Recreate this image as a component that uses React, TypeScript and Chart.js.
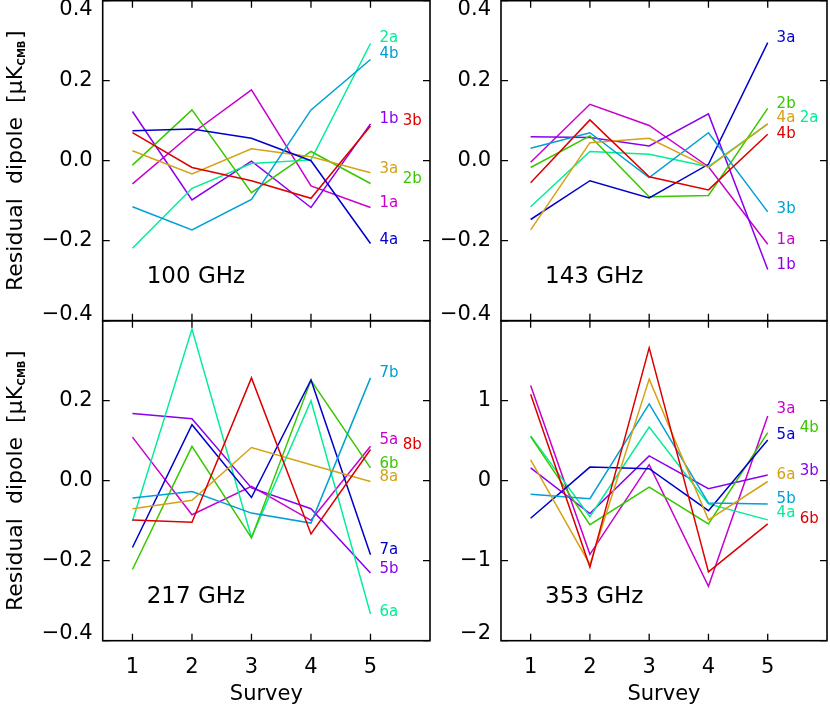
import React, { useEffect, useRef } from "react";
import { Chart, registerables } from "chart.js";

Chart.register(...registerables);

const FONT = "'DejaVu Sans', 'Liberation Sans', sans-serif";

// ---------- shared axes ----------
const surveys = [1, 2, 3, 4, 5];
const xTickValues = [1, 2, 3, 4, 5];
const smallYTicks = [-0.4, -0.2, 0, 0.2, 0.4];
const bigYTicks = [-2, -1, 0, 1, 2];

// ---------- 100 GHz ----------
const names100 = ["1a", "1b", "2a", "2b", "3a", "3b", "4a", "4b"];
const v100_1a = [-0.058, 0.068, 0.177, -0.063, -0.117];
const v100_1b = [0.123, -0.098, -0.001, -0.117, 0.092];
const v100_2a = [-0.219, -0.069, -0.007, 0.002, 0.293];
const v100_2b = [-0.011, 0.127, -0.08, 0.023, -0.057];
const v100_3a = [0.025, -0.033, 0.03, 0.01, -0.03];
const v100_3b = [0.07, -0.017, -0.05, -0.094, 0.087];
const v100_4a = [0.075, 0.079, 0.056, 0.0, -0.207];
const v100_4b = [-0.115, -0.173, -0.097, 0.127, 0.253];
const labels100 = ["2a", "4b", "1b", "3b", "3a", "2b", "1a", "4a"];
const labelY100 = [0.307, 0.267, 0.104, 0.1, -0.022, -0.046, -0.105, -0.198];
const labelCol100 = [0, 0, 0, 1, 0, 1, 0, 0];

// ---------- 143 GHz ----------
const names143 = ["1a", "1b", "2a", "2b", "3a", "3b", "4a", "4b"];
const v143_1a = [-0.004, 0.141, 0.088, -0.015, -0.209];
const v143_1b = [0.06, 0.058, 0.037, 0.117, -0.272];
const v143_2a = [-0.115, 0.023, 0.016, -0.015, 0.092];
const v143_2b = [-0.017, 0.062, -0.09, -0.087, 0.131];
const v143_3a = [-0.147, -0.05, -0.093, -0.009, 0.295];
const v143_3b = [0.031, 0.07, -0.042, 0.07, -0.128];
const v143_4a = [-0.173, 0.045, 0.056, -0.017, 0.092];
const v143_4b = [-0.055, 0.102, -0.04, -0.073, 0.066];
const labels143 = ["3a", "2b", "4a", "2a", "4b", "3b", "1a", "1b"];
const labelY143 = [0.307, 0.142, 0.106, 0.106, 0.066, -0.12, -0.198, -0.26];
const labelCol143 = [0, 0, 0, 1, 0, 0, 0, 0];

// ---------- 217 GHz ----------
const names217 = ["5a", "5b", "6a", "6b", "7a", "7b", "8a", "8b"];
const v217_5a = [0.109, -0.085, -0.014, -0.099, 0.086];
const v217_5b = [0.168, 0.155, -0.018, -0.07, -0.231];
const v217_6a = [-0.101, 0.379, -0.142, 0.2, -0.333];
const v217_6b = [-0.222, 0.086, -0.143, 0.251, 0.032];
const v217_7a = [-0.167, 0.14, -0.042, 0.252, -0.185];
const v217_7b = [-0.043, -0.027, -0.081, -0.106, 0.257];
const v217_8a = [-0.07, -0.049, 0.083, 0.04, -0.002];
const v217_8b = [-0.098, -0.104, 0.257, -0.133, 0.078];
const labels217 = ["7b", "5a", "8b", "6b", "8a", "7a", "5b", "6a"];
const labelY217 = [0.27, 0.1025, 0.09, 0.0425, 0.01, -0.1725, -0.22, -0.3275];
const labelCol217 = [0, 0, 1, 0, 0, 0, 0, 0];

// ---------- 353 GHz ----------
const names353 = ["3a", "3b", "4a", "4b", "5a", "5b", "6a", "6b"];
const v353_3a = [1.19, -0.92, 0.2, -1.32, 0.81];
const v353_3b = [0.16, -0.41, 0.31, -0.1, 0.07];
const v353_4a = [0.56, -0.45, 0.67, -0.29, -0.49];
const v353_4b = [0.55, -0.55, -0.08, -0.54, 0.6];
const v353_5a = [-0.47, 0.17, 0.15, -0.375, 0.51];
const v353_5b = [-0.17, -0.225, 0.96, -0.28, -0.29];
const v353_6a = [0.26, -1.05, 1.27, -0.49, -0.01];
const v353_6b = [1.08, -1.08, 1.66, -1.14, -0.54];
const labels353 = ["3a", "4b", "5a", "6a", "3b", "5b", "4a", "6b"];
const labelY353 = [0.9, 0.66, 0.566, 0.066, 0.125, -0.225, -0.41, -0.475];
const labelCol353 = [0, 1, 0, 0, 1, 0, 0, 1];

// ---------- styles ----------
const MAGENTA = "#c800cc";
const VIOLET = "#8a00ee";
const SPRING = "#00ee96";
const GREEN = "#38c800";
const GOLD = "#d4a214";
const RED = "#dc0000";
const BLUE = "#0000cc";
const CYAN = "#00a0d4";

const colors100 = [MAGENTA, VIOLET, SPRING, GREEN, GOLD, RED, BLUE, CYAN];
const colorsOther = [MAGENTA, VIOLET, SPRING, GREEN, BLUE, CYAN, GOLD, RED];

const PAGE_W = 830;
const PAGE_H = 710;
const LABEL_COL_X = [5.15, 5.54];

type Panel = {
  title: string;
  names: string[];
  values: number[][];
  colors: string[];
  labels: string[];
  labelY: number[];
  labelCol: number[];
  yTicks: number[];
  decimals: number;
  box: { left: number; top: number; right: number; bottom: number };
  isLeft: boolean;
  isBottom: boolean;
};

const panels: Panel[] = [
  {
    title: "100 GHz",
    names: names100,
    values: [v100_1a, v100_1b, v100_2a, v100_2b, v100_3a, v100_3b, v100_4a, v100_4b],
    colors: colors100,
    labels: labels100,
    labelY: labelY100,
    labelCol: labelCol100,
    yTicks: smallYTicks,
    decimals: 1,
    box: { left: 102.7, top: 0.7, right: 430, bottom: 320.7 },
    isLeft: true,
    isBottom: false,
  },
  {
    title: "143 GHz",
    names: names143,
    values: [v143_1a, v143_1b, v143_2a, v143_2b, v143_3a, v143_3b, v143_4a, v143_4b],
    colors: colorsOther,
    labels: labels143,
    labelY: labelY143,
    labelCol: labelCol143,
    yTicks: smallYTicks,
    decimals: 1,
    box: { left: 501, top: 0.7, right: 827, bottom: 320.7 },
    isLeft: false,
    isBottom: false,
  },
  {
    title: "217 GHz",
    names: names217,
    values: [v217_5a, v217_5b, v217_6a, v217_6b, v217_7a, v217_7b, v217_8a, v217_8b],
    colors: colorsOther,
    labels: labels217,
    labelY: labelY217,
    labelCol: labelCol217,
    yTicks: smallYTicks,
    decimals: 1,
    box: { left: 102.7, top: 320.7, right: 430, bottom: 640.7 },
    isLeft: true,
    isBottom: true,
  },
  {
    title: "353 GHz",
    names: names353,
    values: [v353_3a, v353_3b, v353_4a, v353_4b, v353_5a, v353_5b, v353_6a, v353_6b],
    colors: colorsOther,
    labels: labels353,
    labelY: labelY353,
    labelCol: labelCol353,
    yTicks: bigYTicks,
    decimals: 0,
    box: { left: 501, top: 320.7, right: 827, bottom: 640.7 },
    isLeft: false,
    isBottom: true,
  },
];

function fmt(v: number, d: number): string {
  const s = Math.abs(v).toFixed(d);
  return (v < 0 ? "\u2212" : "") + s;
}

function makePlugin(p: Panel) {
  return {
    id: "panelDeco",
    afterDraw(chart: any) {
      const ctx: CanvasRenderingContext2D = chart.ctx;
      const area = chart.chartArea;
      const xs = chart.scales.x;
      const ys = chart.scales.y;
      const yMin = p.yTicks[0];
      const yMax = p.yTicks[p.yTicks.length - 1];
      ctx.save();
      // frame
      ctx.strokeStyle = "#000";
      ctx.lineWidth = 1.6;
      ctx.strokeRect(area.left, area.top, area.right - area.left, area.bottom - area.top);
      // inward ticks
      const TL = 7;
      ctx.lineWidth = 1.3;
      ctx.beginPath();
      xTickValues.forEach((v) => {
        const px = xs.getPixelForValue(v);
        ctx.moveTo(px, area.bottom);
        ctx.lineTo(px, area.bottom - TL);
        ctx.moveTo(px, area.top);
        ctx.lineTo(px, area.top + TL);
      });
      p.yTicks.forEach((v) => {
        const py = ys.getPixelForValue(v);
        ctx.moveTo(area.left, py);
        ctx.lineTo(area.left + TL, py);
        ctx.moveTo(area.right, py);
        ctx.lineTo(area.right - TL, py);
      });
      ctx.stroke();
      // y tick labels
      ctx.fillStyle = "#000";
      ctx.font = `21px ${FONT}`;
      ctx.textAlign = "right";
      ctx.textBaseline = "middle";
      p.yTicks.forEach((v) => {
        if (p.isBottom && v === yMax) return;
        let py = ys.getPixelForValue(v);
        if (v === yMax) py += 8.5;
        if (v === yMin) py -= p.isBottom ? 7.4 : 6.2;
        ctx.fillText(fmt(v, p.decimals), area.left - 10, py);
      });
      // series labels
      ctx.font = `15px ${FONT}`;
      ctx.textAlign = "left";
      p.labels.forEach((lab, i) => {
        const idx = p.names.indexOf(lab);
        ctx.fillStyle = p.colors[idx];
        const px = xs.getPixelForValue(LABEL_COL_X[p.labelCol[i]]);
        const py = ys.getPixelForValue(p.labelY[i]);
        ctx.fillText(lab, px, py);
      });
      // frequency
      ctx.fillStyle = "#000";
      ctx.font = `23px ${FONT}`;
      ctx.textBaseline = "alphabetic";
      ctx.fillText(p.title, area.left + 44, area.bottom - 37.5);
      // y-axis title
      if (p.isLeft) {
        const big = `22px ${FONT}`;
        const sub = `bold 10px ${FONT}`;
        const part1 = "Residual  dipole  [";
        const part2 = "\u03bcK";
        const part3 = "CMB";
        const part4 = "]";
        ctx.font = big;
        const w1 = ctx.measureText(part1).width;
        const w2 = ctx.measureText(part2).width;
        const w4 = ctx.measureText(part4).width;
        ctx.font = sub;
        const w3 = ctx.measureText(part3).width + 2;
        const total = w1 + w2 + w3 + w4;
        const cy = (area.top + area.bottom) / 2;
        ctx.translate(21.5, cy);
        ctx.rotate(-Math.PI / 2);
        ctx.textAlign = "left";
        ctx.textBaseline = "alphabetic";
        let x0 = -total / 2;
        ctx.font = big;
        ctx.fillText(part1, x0, 0);
        x0 += w1;
        ctx.fillText(part2, x0, 0);
        x0 += w2;
        ctx.font = sub;
        ctx.fillText(part3, x0 + 0.5, 3);
        x0 += w3;
        ctx.font = big;
        ctx.fillText(part4, x0, 0);
      }
      ctx.restore();
    },
  };
}

function makeConfig(p: Panel): any {
  const xAxisH = p.isBottom ? 66.3 : 0;
  return {
    type: "line",
    data: {
      datasets: p.values.map((vals, i) => ({
        label: p.names[i],
        data: surveys.map((x, j) => ({ x, y: vals[j] })),
        borderColor: p.colors[i],
        backgroundColor: p.colors[i],
        borderWidth: 1.5,
        pointRadius: 0,
        fill: false,
        tension: 0,
        order: -i,
      })),
    },
    options: {
      animation: false,
      responsive: false,
      events: [],
      layout: {
        padding: {
          left: p.box.left,
          top: p.box.top,
          right: PAGE_W - p.box.right,
          bottom: PAGE_H - p.box.bottom - xAxisH,
        },
      },
      plugins: {
        legend: { display: false },
        tooltip: { enabled: false },
        title: { display: false },
      },
      scales: {
        x: {
          type: "linear",
          min: 0.5,
          max: 6,
          position: "bottom",
          afterBuildTicks: (s: any) => {
            s.ticks = xTickValues.map((v) => ({ value: v }));
          },
          afterFit: (s: any) => {
            s.height = xAxisH;
          },
          grid: { display: false, drawTicks: false },
          border: { display: false },
          ticks: {
            display: p.isBottom,
            font: { family: FONT, size: 21 },
            color: "#000",
            padding: 14.4,
            maxRotation: 0,
            autoSkip: false,
            callback: (v: number) => String(v),
          },
          title: {
            display: p.isBottom,
            text: "Survey",
            font: { family: FONT, size: 21 },
            color: "#000",
            padding: 0,
          },
        },
        y: {
          type: "linear",
          min: p.yTicks[0],
          max: p.yTicks[p.yTicks.length - 1],
          position: "left",
          afterBuildTicks: (s: any) => {
            s.ticks = p.yTicks.map((v) => ({ value: v }));
          },
          afterFit: (s: any) => {
            s.width = 0;
          },
          grid: { display: false, drawTicks: false },
          border: { display: false },
          ticks: { display: false },
        },
      },
    },
    plugins: [makePlugin(p)],
  };
}

export default function App() {
  const r0 = useRef<HTMLCanvasElement>(null);
  const r1 = useRef<HTMLCanvasElement>(null);
  const r2 = useRef<HTMLCanvasElement>(null);
  const r3 = useRef<HTMLCanvasElement>(null);
  const refs = [r0, r1, r2, r3];

  useEffect(() => {
    const charts = panels.map((p, i) => new Chart(refs[i].current as HTMLCanvasElement, makeConfig(p)));
    return () => charts.forEach((c) => c.destroy());
  }, []);

  return (
    <div
      style={{
        position: "absolute",
        left: 0,
        top: 0,
        width: PAGE_W,
        height: PAGE_H,
        background: "#fff",
        overflow: "hidden",
      }}
    >
      {panels.map((p, i) => (
        <canvas
          key={p.title}
          ref={refs[i]}
          width={PAGE_W}
          height={PAGE_H}
          style={{ position: "absolute", left: 0, top: 0 }}
        />
      ))}
    </div>
  );
}
